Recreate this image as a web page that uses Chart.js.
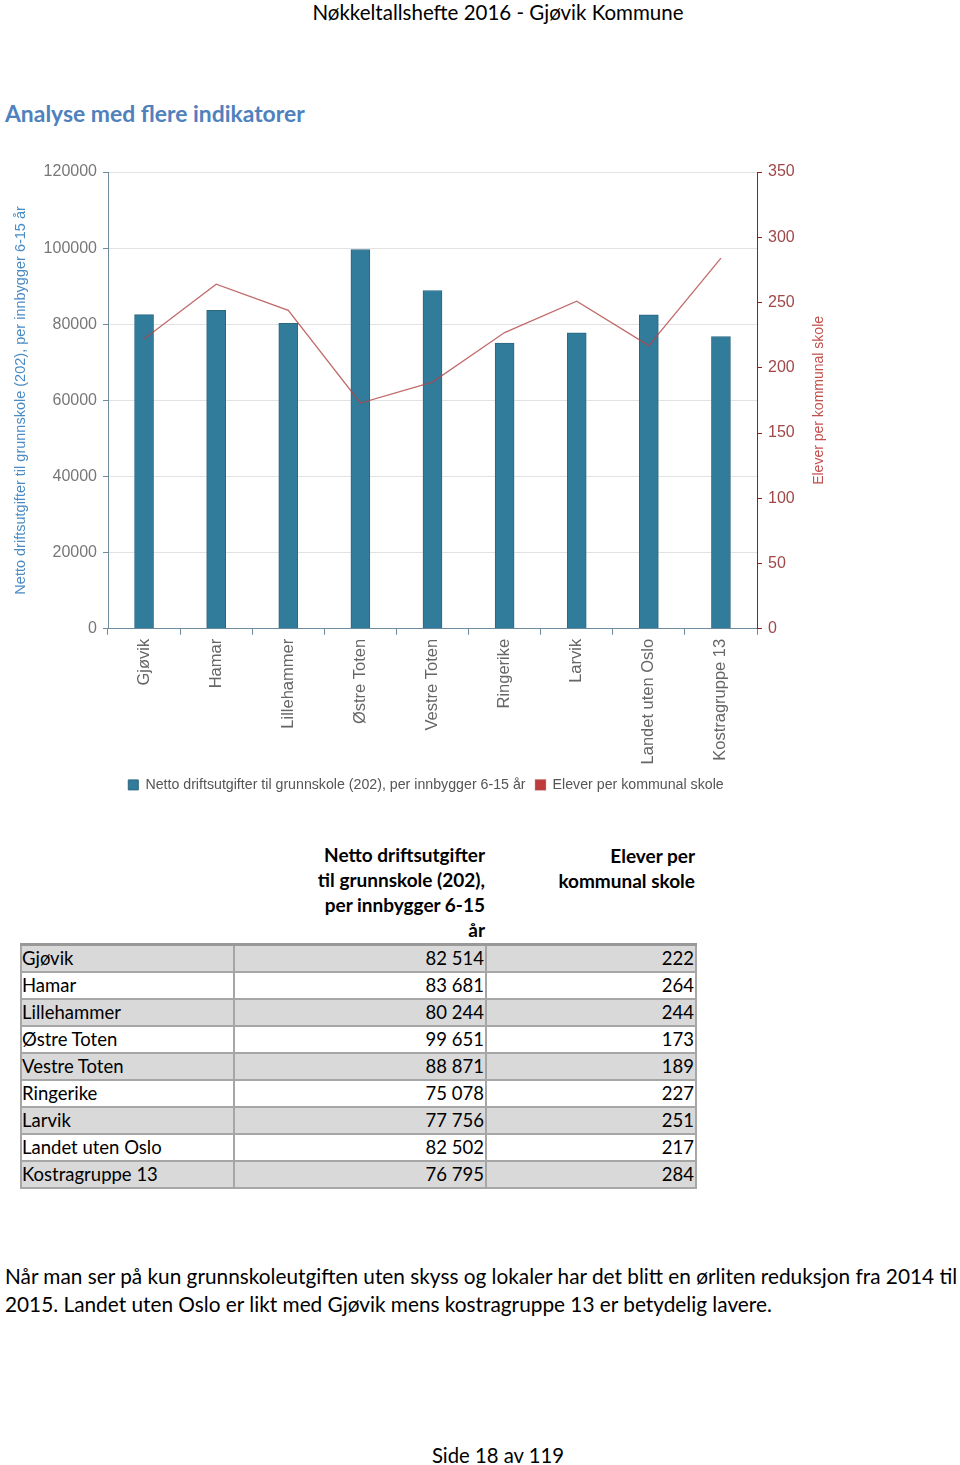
<!DOCTYPE html>
<html>
<head>
<meta charset="utf-8">
<script src="https://cdn.jsdelivr.net/npm/chart.js@4.4.1/dist/chart.umd.min.js"></script>
<style>
  body { margin: 0; width: 960px; height: 1465px; position: relative; background: #fff; font-family: Lato, "Open Sans", sans-serif; color: #000; overflow: hidden; }
  .abs { position: absolute; white-space: nowrap; }
  #header { left: 0; width: 996px; top: 0; text-align: center; font-size: 20.5px; line-height: 24px; }
  #heading { left: 5px; top: 99px; font-size: 22.9px; font-weight: bold; color: #4f81bd; line-height: 28px; }
  #chartBox { position: absolute; left: 0; top: 150px; width: 850px; height: 660px; }
  #tbl { position: absolute; left: 20px; top: 842px; border-collapse: collapse; font-size: 18.5px; }
  #tbl th { font-weight: bold; text-align: right; vertical-align: bottom; line-height: 25px; padding: 0 1px 0 0; font-size: 19px; }
  #tbl th:nth-child(2) { padding-bottom: 1px; }
  #tbl td { height: 25px; line-height: 25px; padding: 0 1px; border: 2px solid #a6a6a6; text-align: right; }
  #tbl td:first-child { text-align: left; padding-left: 0; }
  #tbl tbody tr:first-child td { border-top: 3px solid #999; }
  #tbl tr.shade td { background: #d9d9d9; }
  #para { left: 5px; top: 1262px; font-size: 20.8px; line-height: 28px; }
  #footer { left: 0; width: 996px; top: 1443px; text-align: center; font-size: 20.3px; line-height: 24px; }
</style>
</head>
<body>
<div id="header" class="abs">Nøkkeltallshefte 2016 - Gjøvik Kommune</div>
<div id="heading" class="abs">Analyse med flere indikatorer</div>
<div id="chartBox"><canvas id="chart" width="850" height="660"></canvas></div>
<table id="tbl">
  <colgroup><col style="width:213px"><col style="width:252px"><col style="width:210px"></colgroup>
  <thead>
    <tr><th></th><th>Netto driftsutgifter<br>til grunnskole (202),<br>per innbygger 6-15<br>år</th><th>Elever per<br>kommunal skole<br><br>&nbsp;</th></tr>
  </thead>
  <tbody id="tblBody"></tbody>
</table>
<div id="para" class="abs">Når man ser på kun grunnskoleutgiften uten skyss og lokaler har det blitt en ørliten reduksjon fra 2014 til<br>2015. Landet uten Oslo er likt med Gjøvik mens kostragruppe 13 er betydelig lavere.</div>
<div id="footer" class="abs">Side 18 av 119</div>

<script>
const categories = ["Gjøvik", "Hamar", "Lillehammer", "Østre Toten", "Vestre Toten", "Ringerike", "Larvik", "Landet uten Oslo", "Kostragruppe 13"];
const expenses = [82514, 83681, 80244, 99651, 88871, 75078, 77756, 82502, 76795];
const pupils = [222, 264, 244, 173, 189, 227, 251, 217, 284];
const expenseLabel = "Netto driftsutgifter til grunnskole (202), per innbygger 6-15 år";
const pupilLabel = "Elever per kommunal skole";

// table under the chart
const body = document.getElementById("tblBody");
categories.forEach((name, i) => {
  const tr = document.createElement("tr");
  if (i % 2 === 0) tr.className = "shade";
  const fmt = expenses[i].toString().replace(/\B(?=(\d{3})+(?!\d))/g, " ");
  tr.innerHTML = `<td>${name}</td><td>${fmt}</td><td>${pupils[i]}</td>`;
  body.appendChild(tr);
});

Chart.defaults.font.family = '"Liberation Sans", Arial, sans-serif';

// right axis title reads bottom-to-top in the original
const rightTitle = {
  id: "rightTitle",
  afterDraw(chart) {
    const c = chart.ctx;
    const area = chart.chartArea;
    c.save();
    c.translate(819, (area.top + area.bottom) / 2);
    c.rotate(-Math.PI / 2);
    c.fillStyle = "#c0504d";
    c.font = '14px "Liberation Sans", Arial, sans-serif';
    c.textAlign = "center";
    c.textBaseline = "middle";
    c.fillText(pupilLabel, 0, 0);
    c.restore();
  }
};

const ctx = document.getElementById("chart").getContext("2d");
new Chart(ctx, {
  data: {
    labels: categories,
    datasets: [
      {
        type: "bar",
        label: expenseLabel,
        data: expenses,
        backgroundColor: "#317b9b",
        borderColor: "#2a6882",
        borderWidth: 1,
        barThickness: 19,
        yAxisID: "y",
        order: 2
      },
      {
        type: "line",
        label: pupilLabel,
        data: pupils,
        borderColor: "rgba(178,70,70,0.8)",
        backgroundColor: "#bf3b3b",
        borderWidth: 1.3,
        pointRadius: 0,
        tension: 0,
        yAxisID: "y1",
        order: 1
      }
    ]
  },
  options: {
    responsive: false,
    animation: false,
    layout: { padding: { left: 12, right: 10, top: 22, bottom: 8 } },
    plugins: {
      tooltip: { enabled: false },
      legend: {
        position: "bottom",
        labels: {
          boxWidth: 10,
          boxHeight: 10,
          padding: 10,
          color: "#555",
          font: { size: 14.2 },
          sort: (a, b) => a.datasetIndex - b.datasetIndex
        }
      }
    },
    scales: {
      x: {
        offset: true,
        grid: { offset: true, drawOnChartArea: false, tickLength: 6, color: "#6e8ca0" },
        border: { color: "#6e8ca0" },
        ticks: { minRotation: 90, maxRotation: 90, color: "#666", font: { size: 16.5 }, padding: 4 },
        afterFit: s => { s.height = 139; }
      },
      y: {
        position: "left",
        min: 0,
        max: 120000,
        ticks: { stepSize: 20000, color: "#777", font: { size: 16 }, padding: 6, callback: v => String(v) },
        grid: { color: "#e2e2e2", tickColor: "#6e8ca0", tickLength: 5 },
        border: { color: "#6e8ca0" },
        title: { display: true, text: expenseLabel, color: "#4a8bc4", font: { size: 14.5 }, padding: 0 },
        afterFit: s => { s.width = 96; }
      },
      y1: {
        position: "right",
        min: 0,
        max: 350,
        ticks: { stepSize: 50, color: "#a04848", font: { size: 16 }, padding: 6 },
        grid: { drawOnChartArea: false, tickColor: "#8b2020", tickLength: 5 },
        border: { color: "#8b2020" },
        afterFit: s => { s.width = 83; }
      }
    }
  },
  plugins: [rightTitle]
});
</script>
</body>
</html>
